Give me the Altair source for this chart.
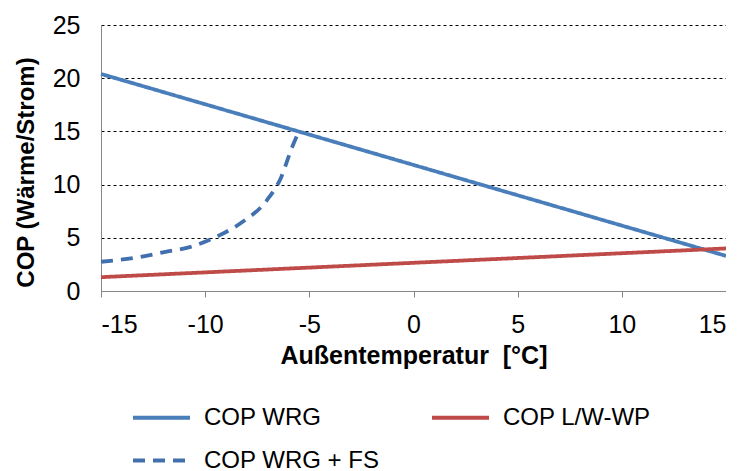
import altair as alt
import pandas as pd

# Data
wrg_x = [-15, -10, -5, 0, 5, 10, 15]
wrg_y = [20.4, 17.55, 14.7, 11.85, 9.0, 6.15, 3.3]

lw_x = [-15, -10, -5, 0, 5, 10, 15]
lw_y = [1.3, 1.75, 2.2, 2.65, 3.1, 3.55, 4.0]

fs_x = [-15, -13.1, -11.85, -10.7, -9.3, -8.2, -7.05, -6.35, -5.85, -5.5]
fs_y = [2.75, 3.2, 3.7, 4.15, 5.25, 6.5, 8.5, 10.7, 13.4, 15.0]

x_ticks = [-15, -10, -5, 0, 5, 10, 15]
y_ticks = [0, 5, 10, 15, 20, 25]

series_names = ["COP WRG", "COP L/W-WP", "COP WRG + FS"]
series_colors = ["#4A7EBB", "#BE4B48", "#4270AE"]
series_dash = [[1, 0], [1, 0], [12, 8]]

rows = []
for name, xs, ys in [(series_names[0], wrg_x, wrg_y),
                     (series_names[1], lw_x, lw_y),
                     (series_names[2], fs_x, fs_y)]:
    for i, (x, y) in enumerate(zip(xs, ys)):
        rows.append({"series": name, "T": x, "COP": y, "order": i})
df = pd.DataFrame(rows)

FONT = "Liberation Sans"

chart = alt.Chart(df).mark_line(strokeWidth=3.8, interpolate="monotone").encode(
    x=alt.X("T:Q",
            scale=alt.Scale(domain=[-15, 15], nice=False, zero=False),
            axis=alt.Axis(values=x_ticks, grid=False,
                          labelExpr="'' + datum.value",
                          title="Außentemperatur\u00a0 [°C]", tickSize=6,
                          labelBaseline="alphabetic", labelPadding=35,
                          titleBaseline="alphabetic", titleY=72,
                          labelFontSize=25, titleFontSize=25)),
    y=alt.Y("COP:Q",
            scale=alt.Scale(domain=[0, 25], nice=False),
            axis=alt.Axis(values=y_ticks, grid=True, ticks=False,
                          gridDash=[3, 3], gridColor="#000000", gridWidth=1,
                          title="COP (Wärme/Strom)",
                          labelPadding=21, labelFontSize=25,
                          titleFontSize=24, titleBaseline="middle",
                          titleX=-75, titleY=147)),
    color=alt.Color("series:N",
                    scale=alt.Scale(domain=series_names, range=series_colors),
                    legend=alt.Legend(title=None, orient="none", direction="horizontal",
                                      legendX=30, legendY=362,
                                      columns=2, columnPadding=44, rowPadding=-30,
                                      symbolType="stroke", symbolSize=3249,
                                      symbolStrokeWidth=4, labelFontSize=24,
                                      labelFont=FONT, labelOffset=12,
                                      labelColor="#000000", labelLimit=400)),
    strokeDash=alt.StrokeDash("series:N",
                              scale=alt.Scale(domain=series_names, range=series_dash),
                              legend=None),
    order="order:Q",
).properties(
    width=625, height=266,
    autosize=alt.AutoSizeParams(type="none"),
    padding={"left": 93, "top": 17, "right": 0, "bottom": 180},
).configure_view(
    stroke=None
).configure_axis(
    labelFont=FONT, titleFont=FONT,
    titleFontWeight="bold", labelColor="#000000", titleColor="#000000",
    domainColor="#868686", tickColor="#868686", domainWidth=1
)

chart.save("out.html", embed_options={"renderer": "svg", "actions": False})
